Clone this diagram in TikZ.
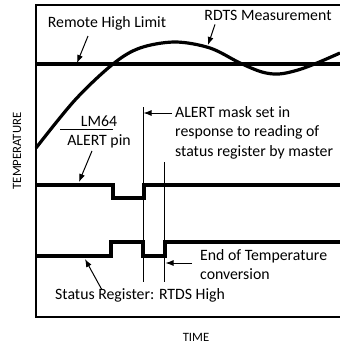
\documentclass[tikz,border=0pt]{standalone}
\usepackage{fontspec}
\setmainfont{Carlito}
\usetikzlibrary{arrows.meta}
\tikzset{
      frame/.style={draw=black, line width=1.6pt},
      limit/.style={draw=black, line width=3.2pt},
      measure/.style={draw=black, line width=3.2pt},
      signal/.style={draw=black, line width=3.1pt},
      marker/.style={draw=black, line width=1pt},
      pointer/.style={draw=black, line width=1pt, -{Latex[length=8pt,width=6pt]}},
      lbl/.style={font=\fontsize{15.8}{19.5}\selectfont, inner sep=0pt},
      axis/.style={font=\fontsize{12.7}{15}\selectfont, inner sep=0pt},
}
\begin{document}
\begin{tikzpicture}[x=1pt, y=-1pt]
        \useasboundingbox (0,0) rectangle (340,343);

        \draw[frame] (340,5) -- (36,5) -- (36,317) -- (340,317) ;
        \node[axis, rotate=90] (templabel) at (17,151) {TEMPERATURE} ;
        \node[axis] (timelabel) at (196,337) {TIME} ;

        \draw[limit] (36,64) -- (340,64) ;
        \draw[measure] plot[smooth, tension=0.55] coordinates
              {(36,148) (75,100) (113,64) (140,48) (175,42) (210,48) (240,63)
               (262,72) (279,74) (298,70) (317,63) (340,53)} ;

        \node[lbl] (rhl) at (107,23) {Remote High Limit} ;
        \node[lbl] (rdts) at (268,15) {RDTS Measurement} ;
        \coordinate (rhltip) at (77,63) ;
        \coordinate (rdtstip) at (208,45) ;
        \draw[pointer] ([xshift=-19pt,yshift=-6pt]rhl.south) -- (rhltip) ;
        \draw[pointer] ([xshift=-53pt,yshift=-4pt]rdts.south) -- (rdtstip) ;

        \draw[marker] (143,107) -- (143,282) ;
        \draw[marker] (164.5,162) -- (164.5,282) ;

        \draw[signal] (36,185) -- (113,185) -- (113,198) -- (144,198) -- (144,185) -- (340,185) ;
        \draw[signal] (36,256) -- (111,256) -- (111,242) -- (143,242) -- (143,256)
              -- (165,256) -- (165,242) -- (340,242) ;

        \node[lbl] (lm64) at (99,121) {LM64} ;
        \node[lbl] (alertpin) at (99,141) {ALERT pin} ;
        \draw[marker] ([yshift=-3pt]lm64.south -| 60,0) -- ([yshift=-3pt]lm64.south -| 113,0) ;
        \coordinate (alerttip) at (79,182) ;
        \draw[pointer] ([xshift=-7pt,yshift=-3pt]alertpin.south) -- (alerttip) ;

        \node[lbl, anchor=north west, align=left] (mask) at (175,106)
              {ALERT mask set in\\response to reading of\\status register by master} ;
        \coordinate (masktip) at (143.5,113) ;
        \draw[pointer] ([xshift=-3pt]mask.west |- masktip) -- (masktip) ;

        \node[lbl, anchor=north west, align=left] (eoc) at (200,249)
              {End of Temperature\\conversion} ;
        \coordinate (eoctip) at (165.5,263) ;
        \draw[pointer] ([xshift=-8pt]eoc.west |- eoctip) -- (eoctip) ;

        \node[lbl, anchor=west] (status) at (55,295) {Status Register: RTDS High} ;
        \coordinate (statustip) at (85,259) ;
        \draw[pointer] ([xshift=47pt,yshift=-2pt]status.north west) -- (statustip) ;

\end{tikzpicture}
\end{document}
